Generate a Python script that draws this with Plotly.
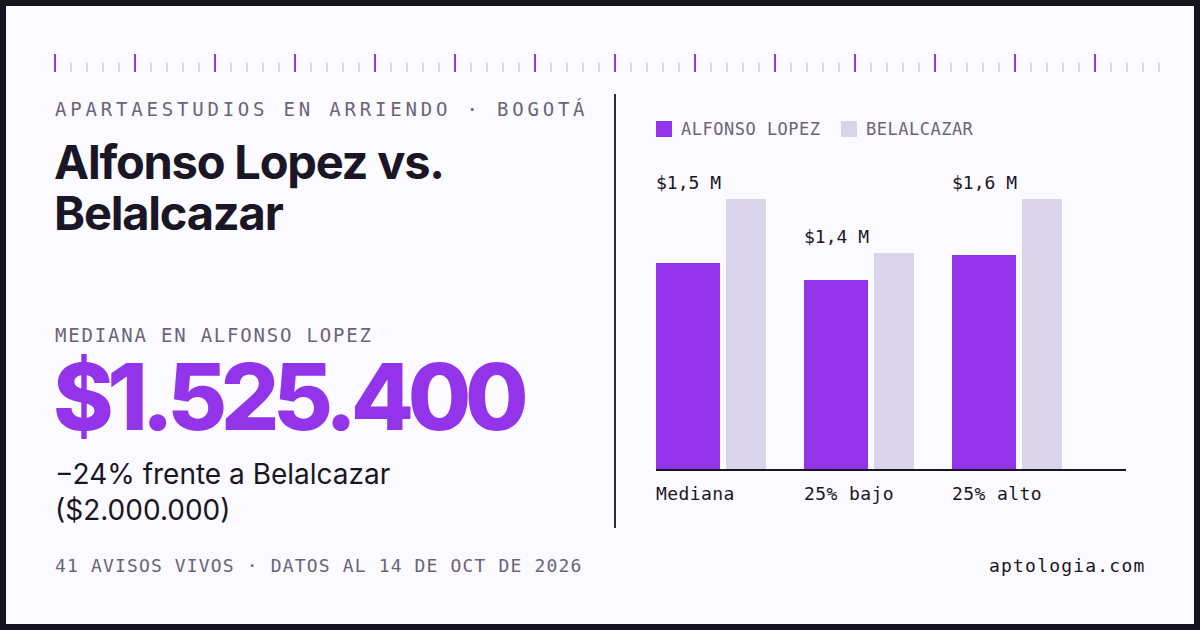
import plotly.graph_objects as go

# ---- data ----
categories = ["Mediana", "25% bajo", "25% alto"]
alfonso = [1525400, 1400000, 1585000]
belalcazar = [2000000, 1600000, 2000000]
value_labels = ["$1,5 M", "$1,4 M", "$1,6 M"]
series_names = ["ALFONSO LOPEZ", "BELALCAZAR"]

header = "APARTAESTUDIOS EN ARRIENDO · BOGOTÁ"
title_lines = ["Alfonso Lopez vs.", "Belalcazar"]
kpi_label = "MEDIANA EN ALFONSO LOPEZ"
kpi_value = "$1.525.400"
kpi_sub = ["−24% frente a Belalcazar", "($2.000.000)"]
footer_left = "41 AVISOS VIVOS · DATOS AL 14 DE OCT DE 2026"
footer_right = "aptologia.com"

# ---- style ----
W, H = 1200, 630
FRAME = "#16141f"
BG = "#fafaff"
PURPLE = "#9333ea"
LAVENDER = "#dad4ea"
INK = "#1a1625"
GRAY = "#6b6478"
MONO = "DejaVu Sans Mono"
SANS = "Inter"


def px(x):
    return x / W


def py(y):
    return 1 - y / H


def spaced(text, ls):
    return f"<span style='letter-spacing:{ls}px'>{text}</span>"


# chart geometry (pixels)
x_left, x_right = 656, 1126
y_base, y_top = 469, 150
group_pitch = 148
px_per_unit = 270 / 2000000

fig = go.Figure()

fig.add_trace(go.Bar(
    x=categories, y=alfonso, name=series_names[0],
    marker=dict(color=PURPLE, line=dict(width=0)),
    offset=0, width=64 / group_pitch, hoverinfo="skip",
))
fig.add_trace(go.Bar(
    x=categories, y=belalcazar, name=series_names[1],
    marker=dict(color=LAVENDER, line=dict(width=0)),
    offset=70 / group_pitch, width=40 / group_pitch, hoverinfo="skip",
))

shapes = []
# inner card
shapes.append(dict(type="rect", xref="paper", yref="paper",
                   x0=px(6), x1=px(1194), y0=py(624), y1=py(6),
                   fillcolor=BG, line=dict(width=0), layer="below"))
# ruler
for i in range(70):
    x = 55 + 16 * i
    major = i % 5 == 0
    shapes.append(dict(type="line", xref="paper", yref="paper",
                       x0=px(x), x1=px(x),
                       y0=py(72), y1=py(54 if major else 62.5),
                       line=dict(color=PURPLE if major else "#dcd6ea", width=2)))
# divider
shapes.append(dict(type="line", xref="paper", yref="paper",
                   x0=px(615), x1=px(615), y0=py(94), y1=py(528),
                   line=dict(color="#2e2b38", width=2)))
# legend squares
for sx, col in [(656, PURPLE), (841, LAVENDER)]:
    shapes.append(dict(type="rect", xref="paper", yref="paper",
                       x0=px(sx), x1=px(sx + 16), y0=py(137), y1=py(121),
                       fillcolor=col, line=dict(width=0)))

ann = []


def text(x, y, t, size, color, family, xanchor="left", weight=None):
    f = dict(size=size, color=color, family=family)
    if weight:
        f["weight"] = weight
    ann.append(dict(xref="paper", yref="paper", x=px(x), y=py(y), text=t,
                    showarrow=False, xanchor=xanchor, yanchor="middle",
                    font=f, borderpad=0))


text(54, 109, spaced(header, 3.8), 19, GRAY, MONO)
text(53, 162, spaced(title_lines[0], -1.2), 47, INK, SANS, weight=700)
text(53, 212, spaced(title_lines[1], -1.2), 47, INK, SANS, weight=700)
text(54, 335, spaced(kpi_label, 1.8), 19, GRAY, MONO)
text(52, 396, spaced(kpi_value, -6.4), 92, PURPLE, SANS, weight=800)
text(54, 474, kpi_sub[0], 28, INK, SANS)
text(54, 510, kpi_sub[1], 28, INK, SANS)
text(54, 565, spaced(footer_left, 1.15), 18, GRAY, MONO)
text(1146, 565, spaced(footer_right, 1.2), 18, INK, MONO, xanchor="right")
text(680, 129, spaced(series_names[0], 0.5), 17, GRAY, MONO)
text(865, 129, spaced(series_names[1], 0.5), 17, GRAY, MONO)

# value labels and category labels tied to data
for i, cat in enumerate(categories):
    top = max(alfonso[i], belalcazar[i])
    ann.append(dict(xref="x", yref="y", x=i, y=top, text=value_labels[i],
                    showarrow=False, xanchor="left", yanchor="middle",
                    yshift=17, xshift=-1, borderpad=0,
                    font=dict(size=18, color=INK, family=MONO)))
    ann.append(dict(xref="x", yref="y", x=i, y=0,
                    text=spaced(cat, 0.4),
                    showarrow=False, xanchor="left", yanchor="middle",
                    yshift=-24, xshift=-1, borderpad=0,
                    font=dict(size=18, color=INK, family=MONO)))

fig.update_layout(
    width=W, height=H,
    margin=dict(l=0, r=0, t=0, b=0),
    paper_bgcolor=FRAME, plot_bgcolor="rgba(0,0,0,0)",
    barmode="overlay", showlegend=False,
    shapes=shapes, annotations=ann,
    xaxis=dict(domain=[px(x_left), px(x_right)],
               range=[0, (x_right - x_left) / group_pitch],
               showline=True, linecolor=INK, linewidth=2,
               showticklabels=False, ticks="", showgrid=False,
               zeroline=False, fixedrange=True),
    yaxis=dict(domain=[py(y_base), py(y_top)],
               range=[0, (y_base - y_top) / px_per_unit],
               visible=False, showgrid=False, zeroline=False,
               fixedrange=True),
)

fig.write_html("out.html", config={"displayModeBar": False})
